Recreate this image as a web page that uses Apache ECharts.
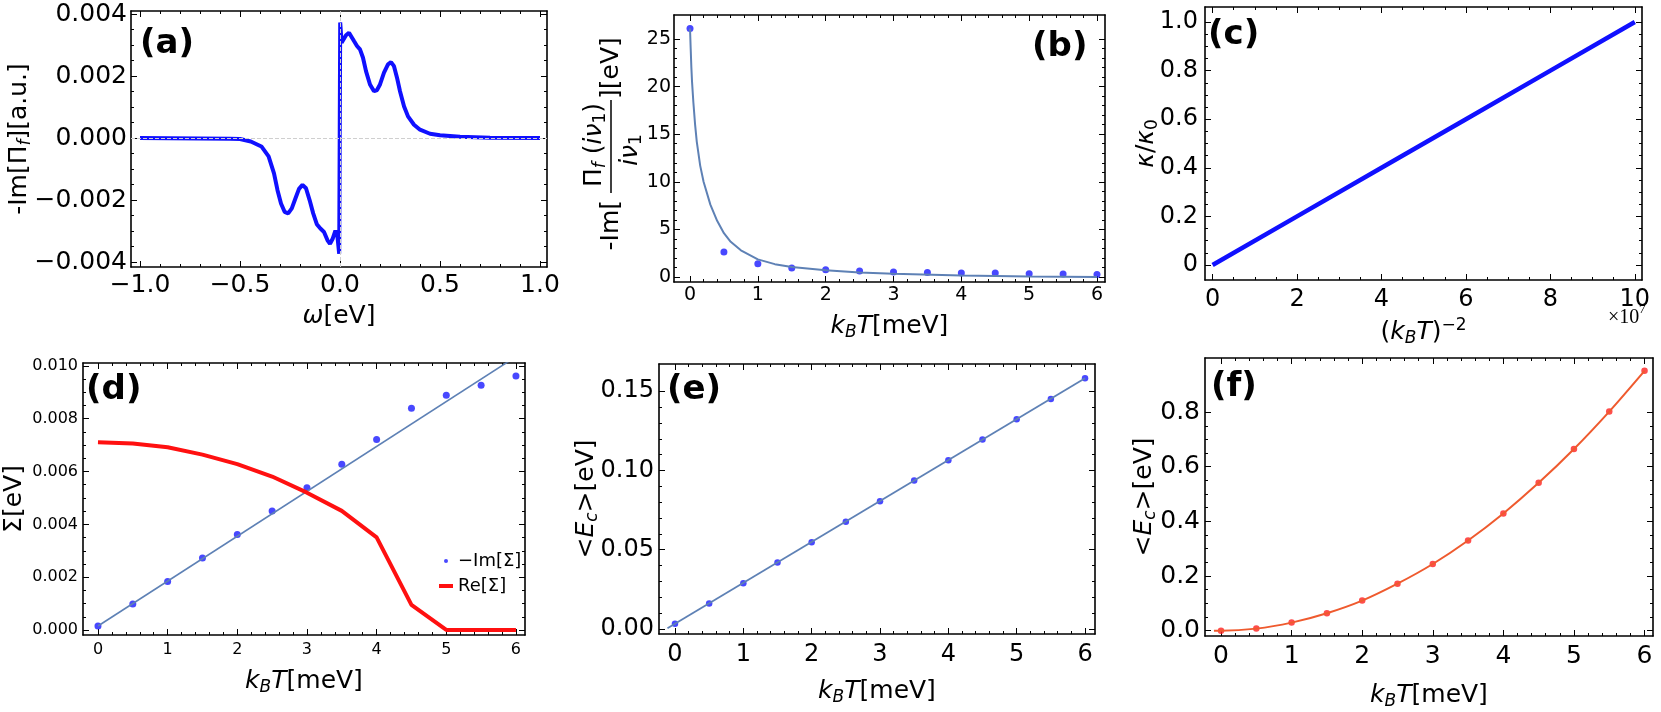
<!DOCTYPE html>
<html>
<head>
<meta charset="utf-8">
<script src="https://cdn.jsdelivr.net/npm/echarts@6/dist/echarts.min.js"></script>
<style>
  html, body { margin: 0; background: #fff; }
  #chart { width: 1661px; height: 712px; }
</style>
</head>
<body>
<div id="chart"></div>
<script>
// ---- data ----
// (a) -Im[Pi_f] vs omega
const omegaA = [-1.0, -0.7, -0.55, -0.5, -0.446, -0.393, -0.357, -0.33, -0.3125, -0.295, -0.277, -0.259, -0.241, -0.223, -0.205, -0.1875, -0.17, -0.152, -0.134, -0.116, -0.098, -0.08, -0.0625, -0.05, -0.036, -0.023, -0.0125, -0.004, -0.001,
                0.001, 0.003, 0.008, 0.015, 0.03, 0.045, 0.055, 0.07, 0.085, 0.1, 0.115, 0.13, 0.15, 0.17, 0.185, 0.2, 0.22, 0.24, 0.255, 0.27, 0.285, 0.3, 0.32, 0.34, 0.37, 0.4, 0.45, 0.5, 0.6, 0.75, 1.0];
const imPiA = [0, -0.00001, -0.00002, -0.00003, -0.00011, -0.00027, -0.00059, -0.00114, -0.00168, -0.00211, -0.00238, -0.00243, -0.00227, -0.00195, -0.00164, -0.00151, -0.00162, -0.002, -0.00243, -0.00278, -0.00292, -0.00303, -0.0033, -0.00341, -0.00324, -0.00299, -0.00319, -0.00373, -0.00375,
               0.00373, 0.00373, 0.00308, 0.00313, 0.00332, 0.0034, 0.00338, 0.00313, 0.00297, 0.00286, 0.00259, 0.00216, 0.00173, 0.00151, 0.00155, 0.00173, 0.00211, 0.00238, 0.00245, 0.00232, 0.00195, 0.00151, 0.00103, 0.0007, 0.00043, 0.00027, 0.00014, 0.00009, 0.00004, 0.00001, 0];

// temperatures of the computed points (meV)
const tempPts = [0, 0.5, 1, 1.5, 2, 2.5, 3, 3.5, 4, 4.5, 5, 5.5, 6];

// (b) -Im[Pi_f(i nu_1)/(i nu_1)]
const piDots = [26.1, 2.63, 1.40, 0.95, 0.77, 0.63, 0.53, 0.46, 0.42, 0.42, 0.35, 0.32, 0.25];
const piFitT = [0, 0.01, 0.02, 0.03, 0.05, 0.075, 0.1, 0.15, 0.2, 0.3, 0.4, 0.5, 0.6, 0.75, 1, 1.25, 1.5, 2, 2.5, 3, 4, 5, 6];
const piFit  = [26.1, 24.0, 22.0, 20.5, 18.3, 16.0, 14.2, 11.7, 10.0, 7.6, 5.9, 4.6, 3.7, 2.8, 1.85, 1.35, 1.05, 0.72, 0.48, 0.33, 0.15, 0.05, 0.0];

// (c) kappa/kappa0 vs (kBT)^-2 (x in units of 1e7)
const invT2 = [0, 2, 4, 6, 8, 10];
const kappaRatio = [0, 0.2, 0.4, 0.6, 0.8, 1.0];

// (d) self energy
const imSigma = [0.00015, 0.00098, 0.00184, 0.00273, 0.00362, 0.00451, 0.00539, 0.00628, 0.00721, 0.0084, 0.00889, 0.00927, 0.00962];
const reSigma = [0.00711, 0.00706, 0.00692, 0.00664, 0.00628, 0.00581, 0.0052, 0.00451, 0.00351, 0.00095, 0, 0, 0];
const imFitT = [0, 6];
const imFit = [0.00015, 0.01035];

// (e) <E_c>, linear
const ecLin = [0.0032, 0.016, 0.0288, 0.0419, 0.0547, 0.0677, 0.0806, 0.0936, 0.1064, 0.1195, 0.1323, 0.1451, 0.1582];
const ecLinFitT = [-0.11, 6];
const ecLinFit = [0.0004, 0.1582];

// (f) <E_c>, quadratic
const ecQuad = [0.0, 0.0074, 0.0294, 0.0638, 0.110, 0.172, 0.244, 0.330, 0.429, 0.541, 0.665, 0.802, 0.951];
const ecQuadFitT = [-0.1, 0, 0.5, 1, 1.5, 2, 2.5, 3, 3.5, 4, 4.5, 5, 5.5, 6];
const ecQuadFit = [0.0, 0.0, 0.0074, 0.0294, 0.0638, 0.110, 0.172, 0.244, 0.330, 0.429, 0.541, 0.665, 0.802, 0.951];

// tick labels
const ticksAx = [-1, -0.5, 0, 0.5, 1];
const ticksAy = [-0.004, -0.002, 0, 0.002, 0.004];
const ticksT = [0, 1, 2, 3, 4, 5, 6];
const ticksBy = [0, 5, 10, 15, 20, 25];
const ticksCx = [0, 2, 4, 6, 8, 10];
const ticksCy = [0, 0.2, 0.4, 0.6, 0.8, 1.0];
const ticksDy = [0, 0.002, 0.004, 0.006, 0.008, 0.010];
const ticksEy = [0, 0.05, 0.10, 0.15];
const ticksFy = [0, 0.2, 0.4, 0.6, 0.8];

// ---- styling ----
const FONT = '"DejaVu Sans", Verdana, sans-serif';
const FIT = '#5E81B5';
const NAME_FS = 25;
const pairs = (xs, ys) => xs.map((x, i) => [x, ys[i]]);
const minus = (s) => s.replace('-', '\u2212');

function nameStyle(fs){
  const sub = Math.round(fs * 0.68), drop = Math.round(fs * 0.5);
  return {
    fontSize: fs, fontFamily: FONT, color: '#000',
    rich: {
      n: { fontSize: fs, fontFamily: FONT, color: '#000' },
      i: { fontSize: fs, fontFamily: FONT, color: '#000', fontStyle: 'italic' },
      s: { fontSize: sub, fontFamily: FONT, color: '#000', fontStyle: 'italic', padding: [drop, 0, 0, 0] },
      r: { fontSize: sub, fontFamily: FONT, color: '#000', padding: [drop, 0, 0, 0] },
      p: { fontSize: sub, fontFamily: FONT, color: '#000', padding: [0, 0, drop, 0] }
    }
  };
}

// four axes per side pair: main (labels + major ticks), minor ticks, opposite frame side, its minor ticks
function frameAxes(dim, grid, range, majors, nMinor, o){
  const minors = [];
  for(let i=1;i<majors.length;i++)
    for(let j=1;j<nMinor;j++) minors.push(majors[i-1] + (majors[i]-majors[i-1]) * j / nMinor);
  const side = dim === 'x' ? ['bottom', 'top'] : ['left', 'right'];
  const mk = (pos, ticks, len, line, main) => ({
    type: 'value', gridIndex: grid, position: pos, min: range[0], max: range[1],
    splitLine: { show: false },
    axisLine: { show: line, onZero: false, lineStyle: { color: '#000', width: 1.6 } },
    axisTick: { show: true, inside: true, length: len, customValues: ticks, lineStyle: { color: '#000', width: 1 } },
    axisLabel: main
      ? { show: true, customValues: majors, formatter: o.fmt, fontSize: o.fs, margin: o.margin, color: '#000', fontFamily: FONT }
      : { show: false },
    name: main ? (o.name || '') : '',
    nameLocation: 'middle', nameGap: o.nameGap || 0, nameRotate: dim === 'y' ? 90 : 0,
    nameMoveOverlap: false,
    nameTextStyle: nameStyle(NAME_FS)
  });
  return [mk(side[0], majors, 6, true, true), mk(side[0], minors, 3, false, false),
          mk(side[1], majors, 6, true, false), mk(side[1], minors, 3, false, false)];
}

const kbt = '{i|k}{s|B}{i|T}{n|[meV]}';
const intFmt = (v) => String(Math.round(v));

const grids = [
  { left: 131, top: 11, width: 416, height: 256 },
  { left: 674, top: 15, width: 431, height: 267 },
  { left: 1205, top: 7, width: 437, height: 273 },
  { left: 83, top: 363, width: 442, height: 272 },
  { left: 659, top: 364, width: 436, height: 270 },
  { left: 1205, top: 358, width: 448, height: 278 }
].map(g => Object.assign(g, { containLabel: false, outerBoundsMode: 'none' }));

const xAxes = [].concat(
  frameAxes('x', 0, [-1.045, 1.035], ticksAx, 5, { fmt: v => minus(v.toFixed(1)), fs: 25, margin: 6, name: '{i|\u03c9}{n|[eV]}', nameGap: 37 }),
  frameAxes('x', 1, [-0.236, 6.118], ticksT, 5, { fmt: intFmt, fs: 19, margin: 4, name: kbt, nameGap: 29 }),
  frameAxes('x', 2, [-0.18, 10.17], ticksCx, 4, { fmt: intFmt, fs: 24, margin: 8, name: '{n|(}{i|k}{s|B}{i|T}{n|)}{p|\u22122}', nameGap: 37 }),
  frameAxes('x', 3, [-0.215, 6.13], ticksT, 5, { fmt: intFmt, fs: 16, margin: 7, name: kbt, nameGap: 31 }),
  frameAxes('x', 4, [-0.234, 6.146], ticksT, 5, { fmt: intFmt, fs: 24, margin: 9, name: kbt, nameGap: 42 }),
  frameAxes('x', 5, [-0.227, 6.12], ticksT, 5, { fmt: intFmt, fs: 25, margin: 8, name: kbt, nameGap: 44 })
);
const yAxes = [].concat(
  frameAxes('y', 0, [-0.00416, 0.0041], ticksAy, 4, { fmt: v => minus(v.toFixed(3)), fs: 25, margin: 4, name: '{n|-Im[\u03a0}{s|f}{n|][a.u.]}', nameGap: 97 }),
  frameAxes('y', 1, [-0.525, 27.52], ticksBy, 5, { fmt: intFmt, fs: 19, margin: 3 }),
  frameAxes('y', 2, [-0.062, 1.062], ticksCy, 4, { fmt: v => v === 0 ? '0' : v.toFixed(1), fs: 24, margin: 7, name: '{i|\u03ba}{n|/}{i|\u03ba}{r|0}', nameGap: 44 }),
  frameAxes('y', 3, [-0.00019, 0.01011], ticksDy, 4, { fmt: v => v.toFixed(3), fs: 16, margin: 5, name: '{n|\u03a3[eV]}', nameGap: 56 }),
  frameAxes('y', 4, [-0.0032, 0.1672], ticksEy, 5, { fmt: v => v.toFixed(2), fs: 24, margin: 5, name: '{n|<}{i|E}{s|c}{n|>[eV]}', nameGap: 58 }),
  frameAxes('y', 5, [-0.0196, 0.998], ticksFy, 4, { fmt: v => v.toFixed(1), fs: 25, margin: 5, name: '{n|<}{i|E}{s|c}{n|>[eV]}', nameGap: 46 })
);

const ax = (p) => ({ xAxisIndex: 4 * p, yAxisIndex: 4 * p });
const dots = (p, name, data, color, size) => Object.assign({ type: 'scatter', name, data, symbolSize: size, itemStyle: { color } }, ax(p));
const curve = (p, name, data, color, width, smooth) => Object.assign({
  type: 'line', name, data, showSymbol: false, smooth: smooth || false,
  lineStyle: { color, width }, itemStyle: { color }
}, ax(p));

const series = [
  Object.assign(curve(0, 'imPi', pairs(omegaA, imPiA), '#1010ff', 4), {
    markLine: { silent: true, symbol: ['none', 'none'], label: { show: false },
      lineStyle: { type: 'dashed', color: '#cfcfcf', width: 1 }, data: [{ yAxis: 0 }, { xAxis: 0 }] },
    z: 3
  }),
  dots(1, 'piDots', pairs(tempPts, piDots), '#1a1aff', 7),
  curve(1, 'piFit', pairs(piFitT, piFit), FIT, 2),
  curve(2, 'kappa', pairs(invT2, kappaRatio), '#1010ff', 4.5),
  dots(3, '\u2212Im[\u03a3]', pairs(tempPts, imSigma), '#1a1aff', 7),
  curve(3, 'imFit', pairs(imFitT, imFit), FIT, 1.6),
  curve(3, 'Re[\u03a3]', pairs(tempPts, reSigma), '#ff1010', 4),
  dots(4, 'ecLin', pairs(tempPts, ecLin), '#1a1aff', 6.5),
  curve(4, 'ecLinFit', pairs(ecLinFitT, ecLinFit), FIT, 1.8),
  dots(5, 'ecQuad', pairs(tempPts, ecQuad), '#ff2020', 6.5),
  curve(5, 'ecQuadFit', pairs(ecQuadFitT, ecQuadFit), '#ef5a2e', 2, 0.3)
];

const panelLabel = (txt, x, y) => ({
  type: 'text', x, y, silent: true,
  style: { text: txt, font: 'bold 34px "DejaVu Sans", sans-serif', fill: '#000', textVerticalAlign: 'middle' }
});

const bRich = nameStyle(NAME_FS).rich;
const bText = (txt, x, y, align) => ({
  type: 'text', x, y,
  style: { text: txt, rich: bRich, fontSize: NAME_FS, fontFamily: FONT, fill: '#000', textAlign: align, textVerticalAlign: 'middle' }
});

const serif = '"Liberation Serif", "DejaVu Serif", serif';
const graphic = [
  panelLabel('(a)', 140, 44),
  panelLabel('(b)', 1032, 47),
  panelLabel('(c)', 1208, 35),
  panelLabel('(d)', 86, 390),
  panelLabel('(e)', 667, 390),
  panelLabel('(f)', 1211, 387),
  // fraction-shaped y label of (b), drawn rotated
  { type: 'group', x: 611, y: 148, rotation: Math.PI / 2, children: [
    bText('{n|-Im[}', -52, 0, 'right'),
    bText('{n|\u03a0}{s|f}{n| (}{i|i\u03bd}{r|1}{n|)}', 3, -17, 'center'),
    { type: 'line', shape: { x1: -45, y1: 0, x2: 48, y2: 0 }, style: { stroke: '#000', lineWidth: 1.5 } },
    bText('{i|i\u03bd}{r|1}', -2, 19, 'center'),
    bText('{n|][eV]}', 49, 0, 'left')
  ]},
  { type: 'text', x: 1608, y: 318, silent: true,
    style: { text: '\u00d710', font: '20px ' + serif, fill: '#000', textVerticalAlign: 'middle' } },
  { type: 'text', x: 1639, y: 310, silent: true,
    style: { text: '7', font: '13px ' + serif, fill: '#000', textVerticalAlign: 'middle' } }
];

const chart = echarts.init(document.getElementById('chart'));
chart.setOption({
  animation: false,
  backgroundColor: '#fff',
  grid: grids,
  xAxis: xAxes,
  yAxis: yAxes,
  legend: {
    data: [{ name: '\u2212Im[\u03a3]', icon: 'circle' }, { name: 'Re[\u03a3]', icon: 'rect' }],
    orient: 'vertical', left: 434, top: 547, itemWidth: 14, itemHeight: 4, itemGap: 7,
    selectedMode: false, textStyle: { fontSize: 18, fontFamily: FONT, color: '#000' }
  },
  series,
  graphic
});
</script>
</body>
</html>
